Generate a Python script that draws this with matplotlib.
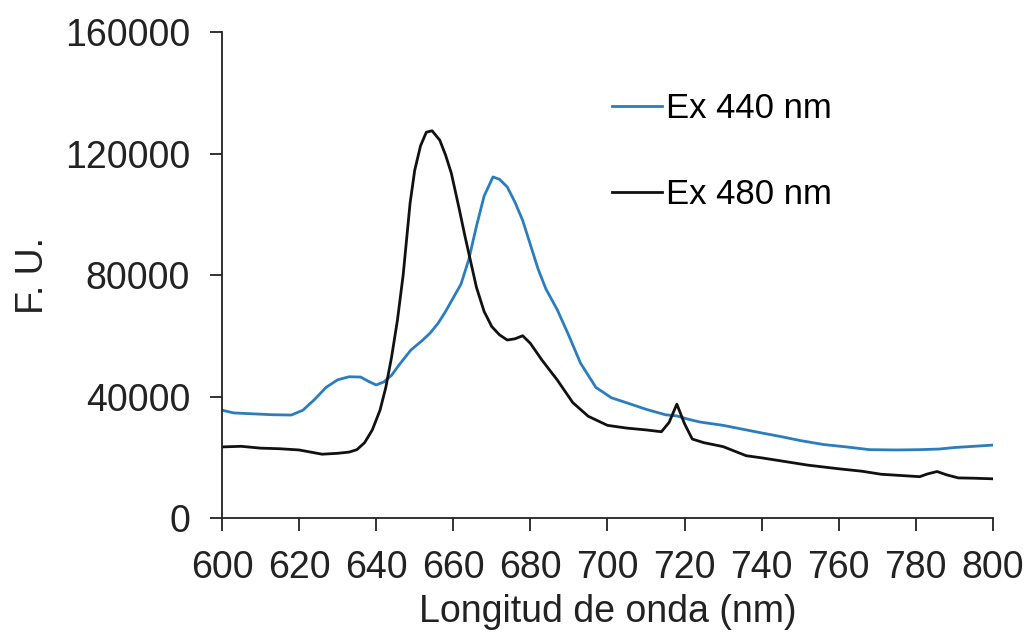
import matplotlib.pyplot as plt

plt.rcParams['font.family'] = ['Liberation Sans', 'DejaVu Sans']

# Ex 440 nm spectrum (wavelength, F.U.)
wl_440 = [600, 603, 608, 613, 618, 621, 624, 627, 630, 633, 636, 638, 640, 642,
          644, 646, 649, 652, 654, 656, 658, 660, 662, 664, 666, 668, 670.3, 672,
          674, 676, 678, 680, 682, 684, 687, 690, 693, 697, 701, 706, 710, 715,
          718, 721, 724, 730, 736, 740, 745, 750, 756, 762, 768, 775, 781, 786,
          790, 795, 800]
fu_440 = [35500, 34600, 34300, 34000, 33900, 35500, 39000, 43000, 45500, 46500,
          46400, 45000, 43800, 44800, 47000, 50500, 55300, 58500, 60900, 64000,
          68000, 72500, 77000, 85000, 96000, 106000, 112300, 111500, 109000,
          104000, 98000, 90000, 82000, 75500, 68500, 60000, 51000, 43000, 39600,
          37500, 35800, 34000, 33600, 32500, 31600, 30500, 29000, 28000, 26800,
          25500, 24200, 23400, 22500, 22400, 22500, 22700, 23200, 23600, 24000]

# Ex 480 nm spectrum
wl_480 = [600, 605, 610, 615, 620, 626, 630, 633, 635, 637, 639, 641, 642.5,
          644, 645.5, 647, 648.8, 650, 651.5, 653, 654.5, 656.5, 658, 659.5,
          661.5, 663, 664.5, 666, 668, 670, 672, 674, 676, 678, 680, 683, 687,
          691, 695, 700, 705, 710, 714, 716, 718, 720, 722, 725, 730, 736, 740,
          745, 752, 760, 766, 771, 776, 781, 783, 785.5, 788, 791, 795, 800]
fu_480 = [23400, 23600, 23000, 22800, 22400, 21000, 21300, 21700, 22500, 24800,
          29000, 35500, 43000, 53000, 65000, 80000, 103700, 114500, 122500,
          127000, 127500, 124400, 119500, 113500, 102000, 93000, 84500, 76000,
          68000, 63000, 60300, 58600, 59000, 60000, 57500, 52000, 45400, 38000,
          33500, 30500, 29600, 29000, 28400, 31500, 37500, 31000, 26000, 24800,
          23500, 20500, 19800, 18800, 17400, 16200, 15400, 14400, 14000, 13600,
          14500, 15300, 14200, 13200, 13100, 12900]

labels = ['Ex 440 nm', 'Ex 480 nm']
x_ticks = list(range(600, 801, 20))
y_ticks = [0, 40000, 80000, 120000, 160000]

fig = plt.figure(figsize=(10.31, 6.41), dpi=100)
ax = fig.add_axes([0.2153, 0.1919, 0.7478, 0.7581])

ax.plot(wl_440, fu_440, color='#2a7dc0', lw=2.0, label=labels[0])
ax.plot(wl_480, fu_480, color='#111111', lw=2.0, label=labels[1])

ax.set_xlim(600, 800)
ax.set_ylim(0, 160000)
ax.set_xticks(x_ticks)
ax.set_yticks(y_ticks)
ax.tick_params(labelsize=27, direction='out', length=9, width=1.3,
               colors='#222222', pad=14)
for s in ['top', 'right']:
    ax.spines[s].set_visible(False)
for s in ['left', 'bottom']:
    ax.spines[s].set_linewidth(1.3)
    ax.spines[s].set_color('#222222')

ax.set_xlabel('Longitud de onda (nm)', fontsize=27, color='#222222', labelpad=6)
ax.set_ylabel('F. U.', fontsize=27, color='#222222', labelpad=10)

leg = ax.legend(loc='upper left', bbox_to_anchor=(0.465, 0.94), frameon=False,
                fontsize=25, handlelength=1.45, handletextpad=0.1,
                labelspacing=1.52)

fig.savefig('out.png', dpi=100)
